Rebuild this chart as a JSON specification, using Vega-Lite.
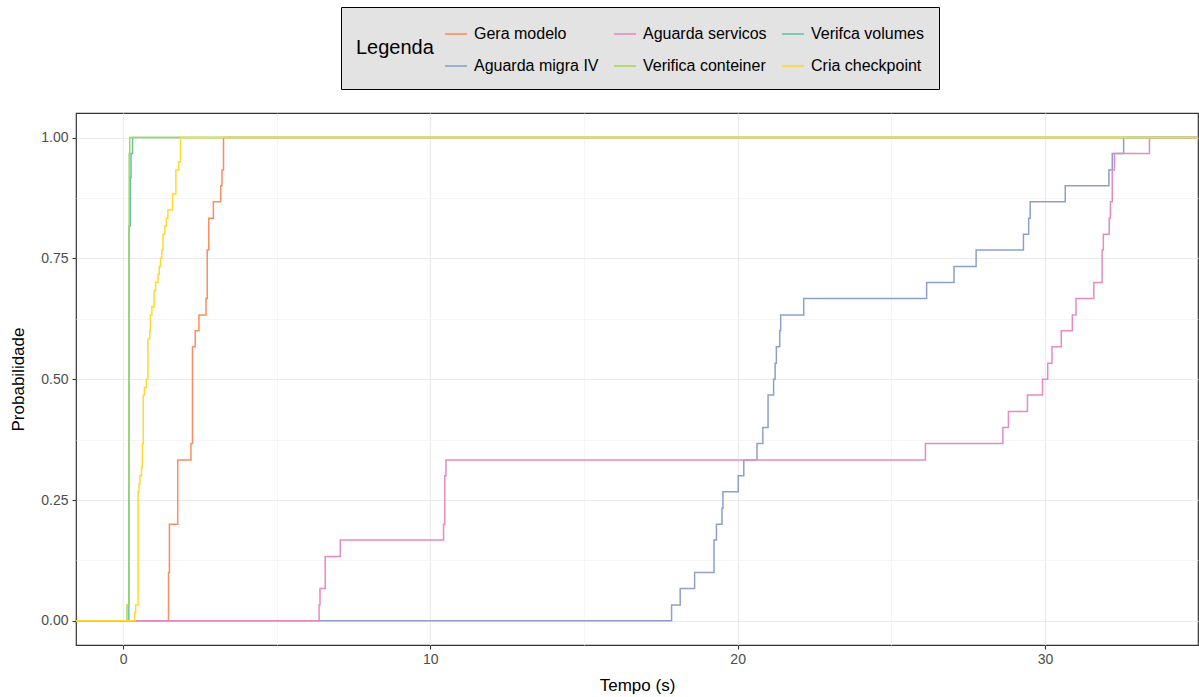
{
  "$schema": "https://vega.github.io/schema/vega-lite/v6.json",
  "autosize": {"type": "none"},
  "padding": {"left": 76, "top": 113, "right": 1, "bottom": 52},
  "width": 1122,
  "height": 532,
  "background": "white",
  "config": {
    "view": {"stroke": "#333333", "strokeWidth": 1.2},
    "font": "Liberation Sans"
  },
  "data": {
    "values": [
      {"s": "Gera modelo", "x": -1.6, "y": 0},
      {"s": "Gera modelo", "x": 1.48, "y": 0.1},
      {"s": "Gera modelo", "x": 1.51, "y": 0.2},
      {"s": "Gera modelo", "x": 1.78, "y": 0.333},
      {"s": "Gera modelo", "x": 2.21, "y": 0.367},
      {"s": "Gera modelo", "x": 2.26, "y": 0.567},
      {"s": "Gera modelo", "x": 2.35, "y": 0.6},
      {"s": "Gera modelo", "x": 2.47, "y": 0.633},
      {"s": "Gera modelo", "x": 2.70, "y": 0.667},
      {"s": "Gera modelo", "x": 2.74, "y": 0.767},
      {"s": "Gera modelo", "x": 2.79, "y": 0.833},
      {"s": "Gera modelo", "x": 2.94, "y": 0.867},
      {"s": "Gera modelo", "x": 3.18, "y": 0.9},
      {"s": "Gera modelo", "x": 3.22, "y": 0.933},
      {"s": "Gera modelo", "x": 3.27, "y": 1},
      {"s": "Gera modelo", "x": 35.1, "y": 1},

      {"s": "Aguarda migra IV", "x": -1.6, "y": 0},
      {"s": "Aguarda migra IV", "x": 17.85, "y": 0.033},
      {"s": "Aguarda migra IV", "x": 18.13, "y": 0.067},
      {"s": "Aguarda migra IV", "x": 18.60, "y": 0.1},
      {"s": "Aguarda migra IV", "x": 19.23, "y": 0.167},
      {"s": "Aguarda migra IV", "x": 19.31, "y": 0.2},
      {"s": "Aguarda migra IV", "x": 19.49, "y": 0.233},
      {"s": "Aguarda migra IV", "x": 19.52, "y": 0.267},
      {"s": "Aguarda migra IV", "x": 20.02, "y": 0.3},
      {"s": "Aguarda migra IV", "x": 20.20, "y": 0.333},
      {"s": "Aguarda migra IV", "x": 20.63, "y": 0.367},
      {"s": "Aguarda migra IV", "x": 20.82, "y": 0.4},
      {"s": "Aguarda migra IV", "x": 20.99, "y": 0.467},
      {"s": "Aguarda migra IV", "x": 21.17, "y": 0.5},
      {"s": "Aguarda migra IV", "x": 21.22, "y": 0.533},
      {"s": "Aguarda migra IV", "x": 21.26, "y": 0.567},
      {"s": "Aguarda migra IV", "x": 21.37, "y": 0.6},
      {"s": "Aguarda migra IV", "x": 21.40, "y": 0.633},
      {"s": "Aguarda migra IV", "x": 22.15, "y": 0.667},
      {"s": "Aguarda migra IV", "x": 26.15, "y": 0.7},
      {"s": "Aguarda migra IV", "x": 27.04, "y": 0.733},
      {"s": "Aguarda migra IV", "x": 27.76, "y": 0.767},
      {"s": "Aguarda migra IV", "x": 29.30, "y": 0.8},
      {"s": "Aguarda migra IV", "x": 29.47, "y": 0.833},
      {"s": "Aguarda migra IV", "x": 29.52, "y": 0.867},
      {"s": "Aguarda migra IV", "x": 30.66, "y": 0.9},
      {"s": "Aguarda migra IV", "x": 32.08, "y": 0.933},
      {"s": "Aguarda migra IV", "x": 32.19, "y": 0.967},
      {"s": "Aguarda migra IV", "x": 32.56, "y": 1},
      {"s": "Aguarda migra IV", "x": 35.1, "y": 1},

      {"s": "Aguarda servicos", "x": -1.6, "y": 0},
      {"s": "Aguarda servicos", "x": 6.38, "y": 0.033},
      {"s": "Aguarda servicos", "x": 6.41, "y": 0.067},
      {"s": "Aguarda servicos", "x": 6.58, "y": 0.133},
      {"s": "Aguarda servicos", "x": 7.07, "y": 0.167},
      {"s": "Aguarda servicos", "x": 10.43, "y": 0.2},
      {"s": "Aguarda servicos", "x": 10.47, "y": 0.3},
      {"s": "Aguarda servicos", "x": 10.51, "y": 0.333},
      {"s": "Aguarda servicos", "x": 26.11, "y": 0.367},
      {"s": "Aguarda servicos", "x": 28.63, "y": 0.4},
      {"s": "Aguarda servicos", "x": 28.81, "y": 0.433},
      {"s": "Aguarda servicos", "x": 29.43, "y": 0.467},
      {"s": "Aguarda servicos", "x": 29.92, "y": 0.5},
      {"s": "Aguarda servicos", "x": 30.09, "y": 0.533},
      {"s": "Aguarda servicos", "x": 30.23, "y": 0.567},
      {"s": "Aguarda servicos", "x": 30.53, "y": 0.6},
      {"s": "Aguarda servicos", "x": 30.89, "y": 0.633},
      {"s": "Aguarda servicos", "x": 31.01, "y": 0.667},
      {"s": "Aguarda servicos", "x": 31.59, "y": 0.7},
      {"s": "Aguarda servicos", "x": 31.86, "y": 0.767},
      {"s": "Aguarda servicos", "x": 31.90, "y": 0.8},
      {"s": "Aguarda servicos", "x": 32.09, "y": 0.833},
      {"s": "Aguarda servicos", "x": 32.13, "y": 0.867},
      {"s": "Aguarda servicos", "x": 32.19, "y": 0.933},
      {"s": "Aguarda servicos", "x": 32.26, "y": 0.967},
      {"s": "Aguarda servicos", "x": 33.40, "y": 1},
      {"s": "Aguarda servicos", "x": 35.1, "y": 1},

      {"s": "Verifca volumes", "x": -1.6, "y": 0},
      {"s": "Verifca volumes", "x": 0.19, "y": 0.283},
      {"s": "Verifca volumes", "x": 0.195, "y": 0.817},
      {"s": "Verifca volumes", "x": 0.24, "y": 0.917},
      {"s": "Verifca volumes", "x": 0.26, "y": 0.967},
      {"s": "Verifca volumes", "x": 0.31, "y": 1},
      {"s": "Verifca volumes", "x": 35.1, "y": 1},

      {"s": "Verifica conteiner", "x": -1.6, "y": 0},
      {"s": "Verifica conteiner", "x": 0.13, "y": 0.033},
      {"s": "Verifica conteiner", "x": 0.2, "y": 0.967},
      {"s": "Verifica conteiner", "x": 0.22, "y": 1},
      {"s": "Verifica conteiner", "x": 35.1, "y": 1},

      {"s": "Cria checkpoint", "x": -1.6, "y": 0},
      {"s": "Cria checkpoint", "x": 0.38, "y": 0.017},
      {"s": "Cria checkpoint", "x": 0.41, "y": 0.033},
      {"s": "Cria checkpoint", "x": 0.49, "y": 0.267},
      {"s": "Cria checkpoint", "x": 0.52, "y": 0.283},
      {"s": "Cria checkpoint", "x": 0.55, "y": 0.3},
      {"s": "Cria checkpoint", "x": 0.60, "y": 0.317},
      {"s": "Cria checkpoint", "x": 0.63, "y": 0.367},
      {"s": "Cria checkpoint", "x": 0.66, "y": 0.467},
      {"s": "Cria checkpoint", "x": 0.70, "y": 0.483},
      {"s": "Cria checkpoint", "x": 0.76, "y": 0.5},
      {"s": "Cria checkpoint", "x": 0.81, "y": 0.583},
      {"s": "Cria checkpoint", "x": 0.87, "y": 0.6},
      {"s": "Cria checkpoint", "x": 0.89, "y": 0.633},
      {"s": "Cria checkpoint", "x": 0.94, "y": 0.65},
      {"s": "Cria checkpoint", "x": 1.01, "y": 0.683},
      {"s": "Cria checkpoint", "x": 1.06, "y": 0.7},
      {"s": "Cria checkpoint", "x": 1.14, "y": 0.717},
      {"s": "Cria checkpoint", "x": 1.18, "y": 0.733},
      {"s": "Cria checkpoint", "x": 1.22, "y": 0.75},
      {"s": "Cria checkpoint", "x": 1.26, "y": 0.767},
      {"s": "Cria checkpoint", "x": 1.30, "y": 0.8},
      {"s": "Cria checkpoint", "x": 1.36, "y": 0.817},
      {"s": "Cria checkpoint", "x": 1.41, "y": 0.833},
      {"s": "Cria checkpoint", "x": 1.46, "y": 0.85},
      {"s": "Cria checkpoint", "x": 1.61, "y": 0.883},
      {"s": "Cria checkpoint", "x": 1.72, "y": 0.933},
      {"s": "Cria checkpoint", "x": 1.81, "y": 0.95},
      {"s": "Cria checkpoint", "x": 1.87, "y": 1},
      {"s": "Cria checkpoint", "x": 35.1, "y": 1}
    ]
  },
  "layer": [
    {
      "mark": {"type": "point", "opacity": 0},
      "encoding": {
        "x": {
          "field": "x", "type": "quantitative",
          "scale": {"domain": [-1.53, 34.98], "nice": false, "zero": false},
          "axis": {"orient": "bottom", "values": [5, 15, 25, 35], "labels": false, "ticks": false, "domain": false, "title": null, "grid": true, "gridColor": "#F3F3F3", "gridWidth": 0.8}
        },
        "y": {
          "field": "y", "type": "quantitative",
          "scale": {"domain": [-0.05, 1.0507], "nice": false, "zero": false},
          "axis": {"orient": "left", "values": [0.125, 0.375, 0.625, 0.875], "labels": false, "ticks": false, "domain": false, "title": null, "grid": true, "gridColor": "#F3F3F3", "gridWidth": 0.8}
        }
      }
    },
    {
      "transform": [{"filter": "datum.s !== 'Cria checkpoint'"}],
      "mark": {"type": "line", "interpolate": "step-after", "strokeWidth": 1.5, "clip": true},
      "encoding": {
        "x": {
          "field": "x", "type": "quantitative",
          "scale": {"domain": [-1.53, 34.98], "nice": false, "zero": false},
          "axis": {
            "orient": "bottom", "values": [0, 10, 20, 30], "format": "d",
            "domain": false, "grid": true, "gridColor": "#EBEBEB", "gridWidth": 1.2,
            "tickColor": "#333333", "tickSize": 4, "tickWidth": 1.1,
            "labelColor": "#4D4D4D", "labelFontSize": 14, "labelPadding": 3, "labelFont": "Liberation Sans",
            "title": "Tempo (s)", "titleFontSize": 17, "titleFontWeight": "normal", "titleColor": "#000000", "titlePadding": 11, "titleFont": "Liberation Sans"
          }
        },
        "y": {
          "field": "y", "type": "quantitative",
          "scale": {"domain": [-0.05, 1.0507], "nice": false, "zero": false},
          "axis": {
            "orient": "left", "values": [0, 0.25, 0.5, 0.75, 1], "format": ".2f",
            "domain": false, "grid": true, "gridColor": "#EBEBEB", "gridWidth": 1.2,
            "tickColor": "#333333", "tickSize": 4, "tickWidth": 1.1,
            "labelColor": "#4D4D4D", "labelFontSize": 14, "labelPadding": 4, "labelFont": "Liberation Sans",
            "title": "Probabilidade", "titleFontSize": 17, "titleFontWeight": "normal", "titleColor": "#000000", "titlePadding": 13, "titleFont": "Liberation Sans"
          }
        },
        "color": {
          "field": "s", "type": "nominal",
          "scale": {
            "domain": ["Gera modelo", "Aguarda servicos", "Verifca volumes", "Aguarda migra IV", "Verifica conteiner", "Cria checkpoint"],
            "range": ["#FC8D62", "#E78AC3", "#66C2A5", "#8DA0CB", "#A6D854", "#FFD92F"]
          },
          "legend": {
            "orient": "none", "legendX": 265, "legendY": -106,
            "direction": "horizontal", "columns": 3,
            "title": "Legenda", "titleOrient": "left", "titleAnchor": "middle", "titleBaseline": "middle",
            "titleFontSize": 20, "titleFontWeight": "normal", "titleColor": "#000000", "titleFont": "Liberation Sans", "titlePadding": 10,
            "labelFontSize": 16, "labelColor": "#000000", "labelFont": "Liberation Sans", "labelOffset": 6,
            "symbolType": "stroke", "symbolSize": 484, "symbolStrokeWidth": 1.6,
            "columnPadding": 11, "rowPadding": 12,
            "padding": 15, "fillColor": "#E3E3E3", "strokeColor": "#000000"
          }
        }
      }
    },
    {
      "transform": [{"filter": "datum.s === 'Cria checkpoint'"}],
      "mark": {"type": "line", "interpolate": "step-after", "strokeWidth": 1.5, "clip": true},
      "encoding": {
        "x": {"field": "x", "type": "quantitative", "scale": {"domain": [-1.53, 34.98], "nice": false, "zero": false}, "axis": null},
        "y": {"field": "y", "type": "quantitative", "scale": {"domain": [-0.05, 1.0507], "nice": false, "zero": false}, "axis": null},
        "color": {"field": "s", "type": "nominal"}
      }
    }
  ],
  "resolve": {"axis": {"x": "independent", "y": "independent"}}
}
